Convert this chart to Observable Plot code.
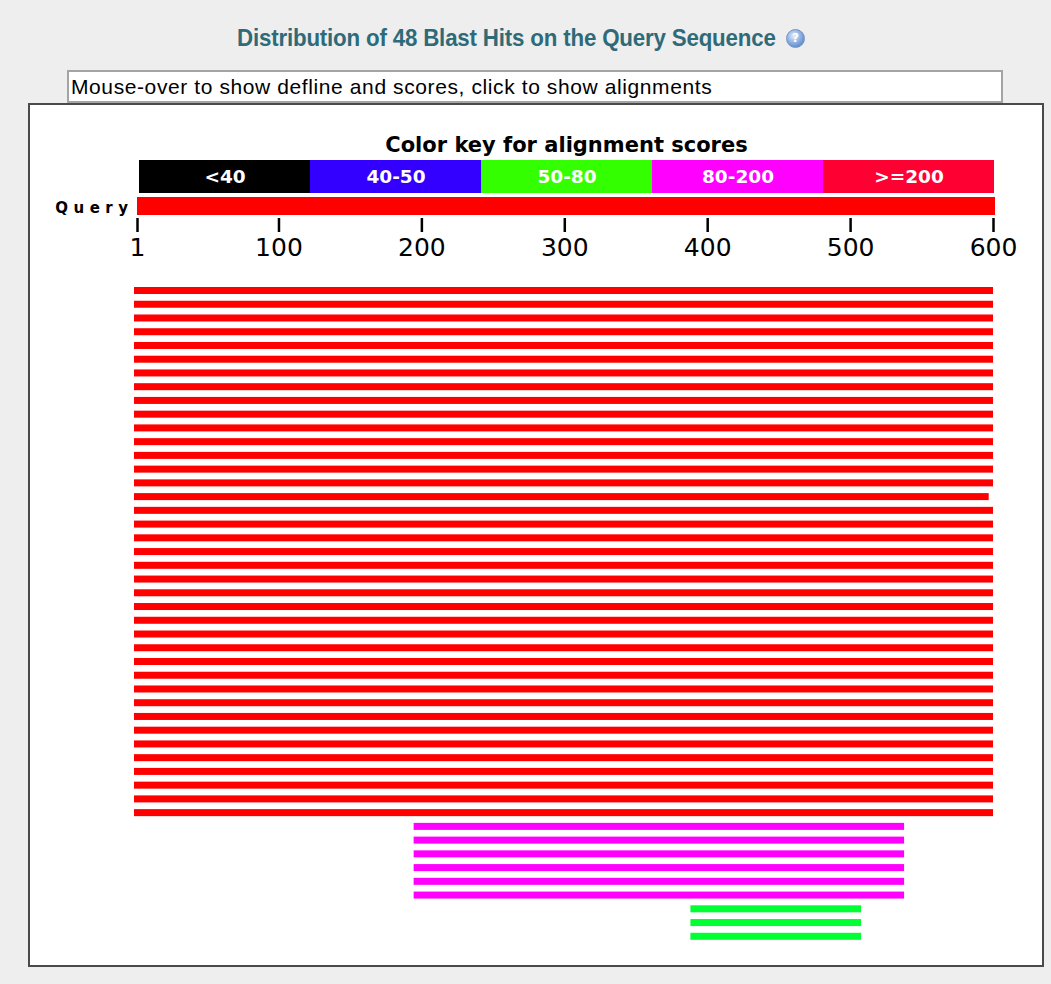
<!DOCTYPE html>
<html><head><meta charset="utf-8">
<script src="https://cdn.jsdelivr.net/npm/d3@7"></script>
<script src="https://cdn.jsdelivr.net/npm/@observablehq/plot@0.6"></script>
<style>
html,body{margin:0;padding:0;}
body{background:#eeeeee;width:1051px;height:984px;position:relative;overflow:hidden;font-family:"Liberation Sans",Arial,sans-serif;}
#ttext{position:absolute;top:24px;left:237px;font-family:"Liberation Sans Narrow","Arial Narrow","Liberation Sans",sans-serif;font-weight:bold;font-size:24px;color:#2e6a78;line-height:28px;white-space:nowrap;transform:scaleX(0.93);transform-origin:left center;letter-spacing:-0.2px;}
#help{position:absolute;left:786px;top:29px;width:19px;height:19px;border-radius:50%;background:radial-gradient(circle at 40% 35%,#e4eefb 0%,#8fb2e2 45%,#3d6fbf 100%);border:1px solid #6e94cc;box-sizing:border-box;color:#fff;font:bold 12px "DejaVu Sans",sans-serif;line-height:17px;text-align:center;}
#mouse{position:absolute;left:67px;top:70px;width:936px;height:33px;box-sizing:border-box;border:2px solid #a4a4a4;background:#fff;font-size:21px;letter-spacing:0.6px;line-height:29px;padding-left:2px;color:#000;white-space:nowrap;}
#panel{position:absolute;left:28px;top:103px;width:1016px;height:864px;box-sizing:border-box;border:2px solid #4a4a4a;background:#fff;}
svg.layer{position:absolute;left:0;top:0;}
</style></head><body>
<div id="ttext">Distribution of 48 Blast Hits on the Query Sequence</div>
<div id="help">?</div>
<div id="mouse">Mouse-over to show defline and scores, click to show alignments</div>
<div id="panel"></div>
<script>
// ---- data ----
const keyTitle = "Color key for alignment scores";
const keyLabels = ["<40", "40-50", "50-80", "80-200", ">=200"];
const keyColors = ["#000000", "#3300FF", "#33FF00", "#FF00FF", "#FF0033"];
const hitColors = ["#000000", "#0000FF", "#00FF33", "#FF00FF", "#FF0000"];
const queryLabel = "Query";
const queryRange = [1, 600];
const axisTicks = [1, 100, 200, 300, 400, 500, 600];

const hitStarts = [
  1,1,1,1,1,1,1,1,1,1,1,1,1,1,1,1,1,1,1,1,1,1,1,1,1,1,1,1,1,1,1,1,1,1,1,1,1,1,1,
  196,196,196,196,196,196,
  389,389,389
];
const hitEnds = [
  600,600,600,600,600,600,600,600,600,600,600,600,600,600,600,597,600,600,600,600,
  600,600,600,600,600,600,600,600,600,600,600,600,600,600,600,600,600,600,600,
  538,538,538,538,538,538,
  508,508,508
];
const hitCategories = [
  ">=200",">=200",">=200",">=200",">=200",">=200",">=200",">=200",">=200",">=200",
  ">=200",">=200",">=200",">=200",">=200",">=200",">=200",">=200",">=200",">=200",
  ">=200",">=200",">=200",">=200",">=200",">=200",">=200",">=200",">=200",">=200",
  ">=200",">=200",">=200",">=200",">=200",">=200",">=200",">=200",">=200",
  "80-200","80-200","80-200","80-200","80-200","80-200",
  "50-80","50-80","50-80"
];

const hits = hitStarts.map((s, i) => ({row: i, start: s, end: hitEnds[i], category: hitCategories[i]}));

const W = 1051;
const transparent = {background: "transparent", overflow: "visible"};

// ---- colour key ----
const keyPlot = Plot.plot({
  width: W, height: 193,
  marginTop: 160, marginBottom: 0, marginLeft: 137, marginRight: W - 995,
  style: transparent,
  x: {type: "band", domain: keyLabels, padding: 0, axis: null},
  color: {type: "ordinal", domain: keyLabels, range: keyColors},
  marks: [
    Plot.cell(keyLabels, {x: d => d, fill: d => d, inset: 0}),
    Plot.text(keyLabels, {x: d => d, text: d => d, fill: "white", fontSize: 18.5, fontWeight: "bold", fontFamily: "DejaVu Sans"}),
    Plot.text([keyTitle], {frameAnchor: "top", text: d => d, lineAnchor: "bottom", dy: -9, fontSize: 21, fontWeight: "bold", fontFamily: "DejaVu Sans", fill: "black"})
  ]
});

// ---- query bar + axis ----
const queryPlot = Plot.plot({
  width: W, height: 270,
  marginTop: 197, marginBottom: 52, marginLeft: 137, marginRight: W - 993,
  style: transparent,
  x: {domain: queryRange},
  marks: [
    Plot.rect([queryRange], {x1: d => d[0], x2: d => d[1], fill: "#FF0000", insetBottom: 3, insetRight: -2}),
    Plot.axisX({ticks: axisTicks, tickFormat: d => String(d), tickSize: 14, tickPadding: 6, strokeWidth: 2.5, fontSize: 25, fontFamily: "DejaVu Sans", fill: "black", stroke: "black", label: null}),
    Plot.text([queryLabel], {frameAnchor: "left", text: d => d, textAnchor: "end", dx: -4, fontSize: 15, fontWeight: "bold", fontFamily: "DejaVu Sans", fill: "black"})
  ]
});
d3.select(queryPlot).selectAll("text").filter(function() { return this.textContent === queryLabel; })
  .attr("letter-spacing", "5.5px");

// ---- hits ----
const hitPlot = Plot.plot({
  width: W, height: 970,
  style: transparent,
  x: {domain: queryRange, range: [134, 993], axis: null},
  y: {type: "band", domain: hits.map(d => d.row), range: [287, 939.8], paddingInner: 0.49, paddingOuter: 0, align: 0, axis: null},
  color: {type: "ordinal", domain: keyLabels, range: hitColors},
  marks: [
    Plot.barX(hits, {x1: "start", x2: "end", y: "row", fill: "category"})
  ]
});

for (const p of [hitPlot, queryPlot, keyPlot]) {
  p.classList.add("layer");
  document.body.appendChild(p);
}
</script>
</body></html>
